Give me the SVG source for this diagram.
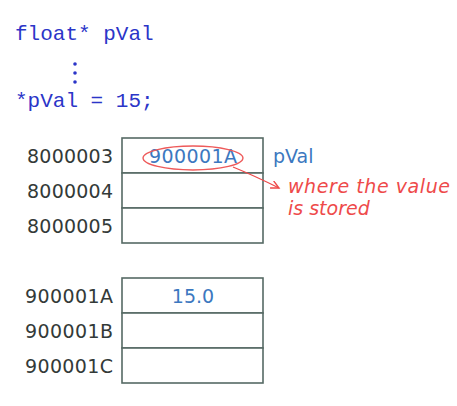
<svg xmlns="http://www.w3.org/2000/svg" width="457" height="406" viewBox="0 0 457 406">
<defs>
<style>
.code{font-family:"Liberation Mono","DejaVu Sans Mono",monospace;font-size:21px;fill:#2b35c8}
.addr{font-family:"DejaVu Sans","Liberation Sans",sans-serif;font-size:19px;fill:#333a38;text-anchor:end}
.val{font-family:"DejaVu Sans","Liberation Sans",sans-serif;font-size:19px;fill:#3c78c0}
.note{font-family:"DejaVu Sans","Liberation Sans",sans-serif;font-size:19px;font-style:italic;fill:#ee4a4a}
.cell{fill:#fff;stroke:#566a64;stroke-width:1.6}
</style>
<marker id="ah" markerWidth="10" markerHeight="10" refX="8" refY="4" orient="auto" markerUnits="userSpaceOnUse">
<path d="M0,0 L8,4 L0,8" fill="none" stroke="#ee4a4a" stroke-width="1.4"/>
</marker>
</defs>
<rect width="457" height="406" fill="#fff"/>
<g id="code">
<text class="code" x="15" y="40">float* pVal</text>
<circle cx="75" cy="64" r="1.8" fill="#2b35c8"/>
<circle cx="75" cy="73" r="1.8" fill="#2b35c8"/>
<circle cx="75" cy="82" r="1.8" fill="#2b35c8"/>
<text class="code" x="15" y="107">*pVal = 15;</text>
</g>
<g id="mem1">
<rect class="cell" x="122" y="138" width="141" height="35"/>
<rect class="cell" x="122" y="173" width="141" height="35"/>
<rect class="cell" x="122" y="208" width="141" height="35"/>
<text class="addr" x="113" y="163" textLength="86">8000003</text>
<text class="addr" x="113" y="198" textLength="86">8000004</text>
<text class="addr" x="113" y="233" textLength="86">8000005</text>
<text class="val" x="193" y="163" text-anchor="middle" textLength="88">900001A</text>
<text class="val" x="273" y="163">pVal</text>
</g>
<g id="mem2">
<rect class="cell" x="122" y="278" width="141" height="35"/>
<rect class="cell" x="122" y="313" width="141" height="35"/>
<rect class="cell" x="122" y="348" width="141" height="35"/>
<text class="addr" x="113" y="303" textLength="88">900001A</text>
<text class="addr" x="113" y="338" textLength="88">900001B</text>
<text class="addr" x="113" y="373" textLength="88">900001C</text>
<text class="val" x="193" y="303" text-anchor="middle">15.0</text>
</g>
<g id="note">
<ellipse cx="193" cy="158" rx="50" ry="12" fill="none" stroke="#ee5a5a" stroke-width="1.3"/>
<text class="note" x="288" y="193" textLength="162">where the value</text>
<text class="note" x="288" y="215">is stored</text>
</g>
<g id="connectors">
<path d="M233,167 Q255,176 279,188" fill="none" stroke="#ee4a4a" stroke-width="1.3" marker-end="url(#ah)"/>
</g>
</svg>
